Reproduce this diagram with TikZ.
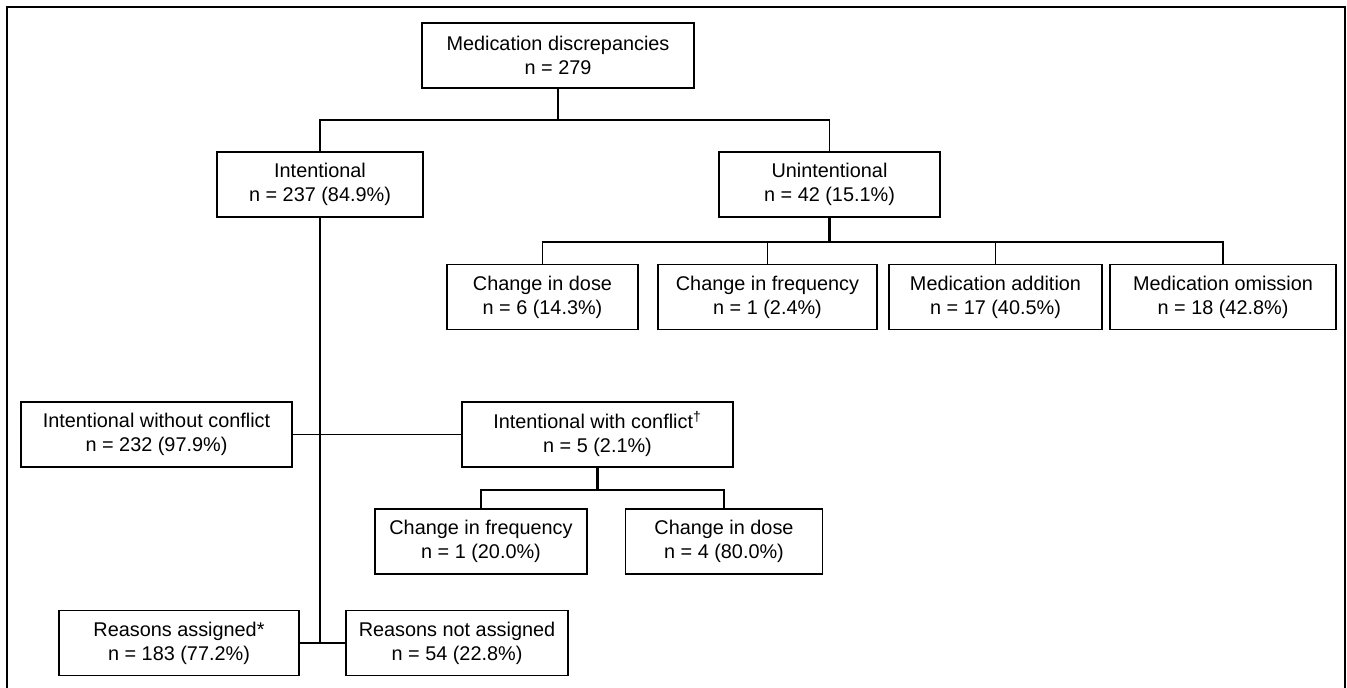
\documentclass[tikz,border=0pt]{standalone}
\usepackage{fontspec}
\setmainfont{Liberation Sans}
\usepackage{tikz}
\usetikzlibrary{positioning,calc}

\tikzset{
    box/.style={draw, line width=0.8pt, align=center, minimum height=1.3cm, inner sep=2pt, font=\fontsize{11.3}{13.7}\selectfont},
    link/.style={line width=0.8pt},
    trunk/.style={line width=1.4pt},
}

\begin{document}
\begin{tikzpicture}[x=0.02cm, y=-0.02cm]
\useasboundingbox (0,0) rectangle (1347,688);
\draw [line width=1pt] (7,688) -- (7,7) -- (1345,7) -- (1345,688);

\node [box, minimum width=5.44cm] (root) at (558,55.5) {Medication discrepancies\\n = 279};

\node [box, minimum width=4.12cm] (intent) at (320,184.5) {Intentional\\n = 237 (84.9\%)};
\node [box, minimum width=4.42cm] (unint) at (829.5,184.5) {Unintentional\\n = 42 (15.1\%)};

\node [box, minimum width=3.82cm] (dose) at (542.5,297) {Change in dose\\n = 6 (14.3\%)};
\node [box, minimum width=4.38cm] (freq) at (767.5,297) {Change in frequency\\n = 1 (2.4\%)};
\node [box, minimum width=4.26cm] (addition) at (995.5,297) {Medication addition\\n = 17 (40.5\%)};
\node [box, minimum width=4.52cm] (omission) at (1223,297) {Medication omission\\n = 18 (42.8\%)};

\node [box, minimum width=5.42cm] (noconflict) at (156.5,434.5) {Intentional without conflict\\n = 232 (97.9\%)};
\node [box, minimum width=5.42cm] (conflict) at (597.5,434.5) {Intentional with conflict\textsuperscript{†}\\n = 5 (2.1\%)};

\node [box, minimum width=4.24cm] (cfreq) at (481,541.5) {Change in frequency\\n = 1 (20.0\%)};
\node [box, minimum width=3.94cm] (cdose) at (724,541.5) {Change in dose\\n = 4 (80.0\%)};

\node [box, minimum width=4.8cm] (assigned) at (179,643) {Reasons assigned*\\n = 183 (77.2\%)};
\node [box, minimum width=4.44cm] (notassigned) at (457,643) {Reasons not assigned\\n = 54 (22.8\%)};

% branch points
\coordinate (top split) at (558,120);
\coordinate (unint split) at (829.5,242);
\coordinate (conflict split) at (597.5,490);
\coordinate (reason split) at (320,643);

\draw [link] (root) -- (top split);
\draw [link] (intent.north) |- (top split) -| (unint.north);

\draw [trunk] (unint) -- (unint split);
\draw [link] (dose.north) |- (unint split) -| (omission.north);
\draw [link] (freq.north) -- (freq.north |- unint split);
\draw [link] (addition.north) -- (addition.north |- unint split);

\draw [link] (intent) -- (reason split);
\draw [link] (noconflict) -- (conflict);
\draw [link] (assigned) -- (notassigned);

\draw [trunk] (conflict) -- (conflict split);
\draw [link] (cfreq.north) |- (conflict split) -| (cdose.north);

\end{tikzpicture}
\end{document}
